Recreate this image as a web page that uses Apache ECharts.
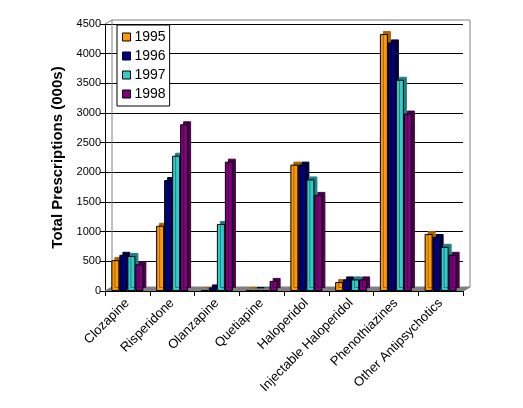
<!DOCTYPE html>
<html>
<head>
<meta charset="utf-8">
<script src="https://cdn.jsdelivr.net/npm/echarts@6/dist/echarts.min.js"></script>
<style>
  html, body { margin: 0; padding: 0; background: #fff; }
  #main { width: 523px; height: 408px; }
</style>
</head>
<body>
<div id="main"></div>
<script>
var categories = ['Clozapine', 'Risperidone', 'Olanzapine', 'Quetiapine', 'Haloperidol',
	'Injectable Haloperidol', 'Phenothiazines', 'Other Antipsychotics'];
var years = ['1995', '1996', '1997', '1998'];
var v1995 = [520, 1100, 15, 10, 2130, 150, 4330, 960];
var v1996 = [610, 1870, 60, 10, 2130, 195, 4190, 910];
var v1997 = [590, 2280, 1130, 15, 1880, 195, 3560, 745];
var v1998 = [450, 2810, 2180, 170, 1620, 195, 2990, 610];
var yTicks = [0, 500, 1000, 1500, 2000, 2500, 3000, 3500, 4000, 4500];

var colors = ['#FF9900', '#000080', '#33CCCC', '#800080'];
var sideColors = ['#A86400', '#000040', '#1E8080', '#480048'];
var values = [v1995, v1996, v1997, v1998];

var myChart = echarts.init(document.getElementById('main'));

var series = [];
for (var i = 0; i < years.length; i++) {
	series.push({
		name: years[i],
		type: 'bar',
		barWidth: 8,
		barGap: '0%',
		z: 3,
		data: values[i],
		itemStyle: {
			color: colors[i],
			borderColor: '#000',
			borderWidth: 1,
			shadowColor: sideColors[i],
			shadowBlur: 0,
			shadowOffsetX: 3,
			shadowOffsetY: -3
		}
	});
}

var option = {
	animation: false,
	backgroundColor: '#fff',
	color: colors,
	textStyle: { fontFamily: 'Liberation Sans, Arial, sans-serif' },
	grid: { left: 105, right: 60, top: 24, bottom: 117 },
	legend: {
		orient: 'vertical',
		left: 117,
		top: 25,
		padding: [5, 4, 5, 5],
		itemWidth: 8,
		itemHeight: 8,
		itemGap: 5,
		borderColor: '#000',
		borderWidth: 1,
		backgroundColor: '#fff',
		icon: 'rect',
		z: 10,
		itemStyle: { borderColor: '#000', borderWidth: 1 },
		textStyle: { fontSize: 14, color: '#000', padding: [0, 0, 0, -1] },
		data: years
	},
	xAxis: {
		type: 'category',
		data: categories,
		z: 4,
		axisLine: { lineStyle: { color: '#000' } },
		axisTick: { show: true, length: 5, lineStyle: { color: '#000' } },
		axisLabel: { rotate: 45, interval: 0, fontSize: 13, color: '#000', margin: 10 }
	},
	yAxis: {
		type: 'value',
		min: 0,
		max: 4500,
		interval: 500,
		name: 'Total Prescriptions (000s)',
		nameLocation: 'middle',
		nameGap: 37,
		nameTextStyle: { fontSize: 15, fontWeight: 'bold', color: '#000' },
		axisLine: { show: true, lineStyle: { color: '#000' } },
		axisTick: { show: true, length: 5, lineStyle: { color: '#000' } },
		axisLabel: { fontSize: 11, color: '#000', margin: 4,
			formatter: function (v) { return yTicks.indexOf(v) >= 0 ? String(v) : ''; } },
		splitLine: { show: true, lineStyle: { color: '#000', width: 1 } }
	},
	series: series
};

myChart.setOption(option);

// back wall and floor, drawn from the grid corners
var p0 = myChart.convertToPixel({ gridIndex: 0 }, [0, 0]);
var rect = myChart.getModel().getComponent('grid').coordinateSystem.getRect();
var dx = 7, dy = -4;
var x0 = rect.x, x1 = rect.x + rect.width, yb = rect.y + rect.height, yt = rect.y;
myChart.setOption({
	graphic: [
		{
			type: 'polygon', z: 1, silent: true,
			shape: { points: [[x0, yb], [x1, yb], [x1 + dx, yb + dy], [x0 + dx, yb + dy]] },
			style: { fill: '#808080', stroke: '#808080' }
		},
		{
			type: 'polyline', z: 1, silent: true,
			shape: { points: [[x0, yt], [x0 + dx, yt + dy], [x1 + dx, yt + dy], [x1 + dx, yb + dy], [x1, yb]] },
			style: { fill: null, stroke: '#808080', lineWidth: 1 }
		},
		{
			type: 'line', z: 1, silent: true,
			shape: { x1: x0 + dx, y1: yt + dy, x2: x0 + dx, y2: yb + dy },
			style: { stroke: '#808080', lineWidth: 1 }
		}
	]
});
</script>
</body>
</html>
